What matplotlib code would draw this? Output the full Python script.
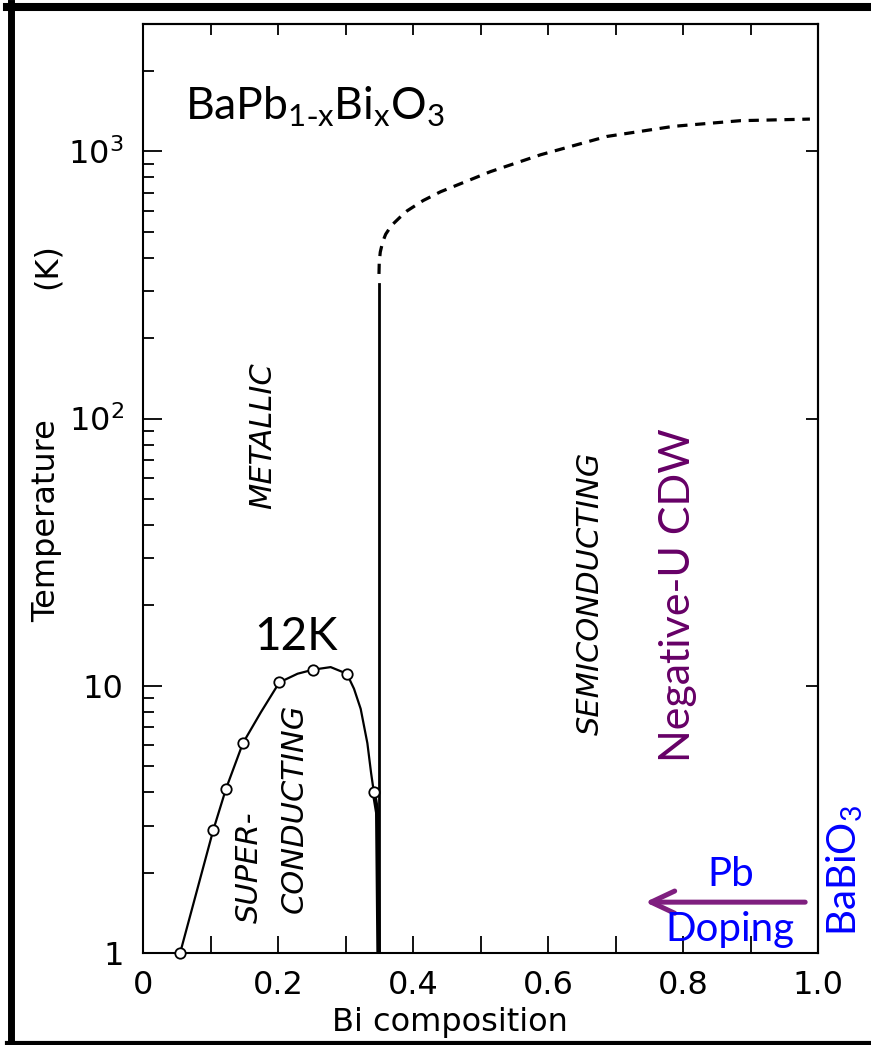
import numpy as np
import matplotlib.pyplot as plt
from matplotlib.lines import Line2D

plt.rcParams['font.family'] = ['DejaVu Sans']
plt.rcParams['mathtext.fontset'] = 'dejavusans'

W, H = 871, 1045

# measured Tc points (open circles)
tc_x = [0.055, 0.104, 0.123, 0.148, 0.202, 0.2525, 0.302, 0.342]
tc_T = [1.0, 2.88, 4.12, 6.1, 10.3, 11.5, 11.1, 4.0]

# superconducting dome line
dome_x = [0.055, 0.104, 0.123, 0.148, 0.1746, 0.202, 0.229, 0.2525, 0.278,
          0.302, 0.3126, 0.3225, 0.3324, 0.338, 0.342]
dome_T = [1.0, 2.88, 4.12, 6.1, 7.96, 10.3, 11.1, 11.5, 11.75,
          11.1, 9.75, 8.2, 6.1, 4.7, 4.0]

# steep end of the dome down to 1 K
tail_x = [0.342, 0.347, 0.349]
tail_T = [4.0, 3.35, 1.0]

# metal / semiconductor boundary
bound_x = [0.3496, 0.3496]
bound_T = [1.0, 320]

# dashed high temperature boundary
dash_x = [0.3496, 0.350, 0.3515, 0.355, 0.3595, 0.368, 0.38, 0.3915, 0.415,
          0.441, 0.515, 0.589, 0.687, 0.786, 0.885, 0.988]
dash_T = [348, 385, 420, 458, 490, 528, 565, 600, 655,
          707, 841, 972, 1138, 1242, 1304, 1322]

xticks = [0, 0.2, 0.4, 0.6, 0.8, 1.0]
xticklabels = ['0', '0.2', '0.4', '0.6', '0.8', '1.0']
yticks = [1, 10, 100, 1000]
yticklabels = ['1', '10', r'$\mathregular{10^2}$', r'$\mathregular{10^3}$']

PURPLE = '#660066'
ARROW = '#7f1f7f'
BLUE = '#0000ff'


def px(x, y):
    return x / W, 1 - y / H


fig = plt.figure(figsize=(W / 100, H / 100), dpi=100)
ax = fig.add_axes([143 / W, 1 - 953 / H, 675 / W, 929 / H])

ax.plot(dome_x, dome_T, color='black', lw=1.6)
ax.plot(tail_x, tail_T, color='black', lw=3.2, solid_capstyle='butt')
ax.plot(bound_x, bound_T, color='black', lw=2.0)
ax.plot(dash_x, dash_T, color='black', lw=2.3, linestyle=(0, (3.2, 2.4)))
ax.plot(tc_x, tc_T, linestyle='none', marker='o', ms=7.5, mfc='white',
        mec='black', mew=1.3, clip_on=False, zorder=5)

ax.set_yscale('log')
ax.set_xlim(0, 1.0)
ax.set_ylim(1, 3000)

ax.set_xticks(xticks)
ax.set_xticklabels(xticklabels)
ax.set_xticks(np.arange(0.1, 1.0, 0.2), minor=True)
ax.set_yticks(yticks)
ax.set_yticklabels(yticklabels)

for s in ax.spines.values():
    s.set_linewidth(1.5)

ax.tick_params(axis='x', which='both', direction='in', length=12, width=1.3,
               labelsize=23, pad=12)
ax.tick_params(axis='y', which='major', direction='in', length=14, width=1.3,
               labelsize=23, pad=14)
ax.tick_params(axis='y', which='minor', direction='in', length=8, width=1.3)

top = ax.secondary_xaxis('top')
top.set_xticks(np.arange(0.1, 1.0, 0.1))
top.tick_params(direction='in', length=8, width=1.3, labeltop=False)
top.xaxis.set_minor_locator(plt.NullLocator())
top.spines['top'].set_linewidth(1.5)

right = ax.secondary_yaxis('right')
right.set_yticks([10, 100, 1000])
right.yaxis.set_minor_locator(plt.NullLocator())
right.tick_params(direction='in', length=9, width=1.3, labelright=False)
right.spines['right'].set_linewidth(1.5)

# axis labels
fig.text(*px(47, 521), 'Temperature', rotation=90, fontsize=23,
         ha='center', va='center')
fig.text(*px(47, 266), '(K)', rotation=90, fontsize=23,
         ha='center', va='center')
fig.text(*px(450, 1022), 'Bi composition', fontsize=23,
         ha='center', va='center')

# region labels
region = dict(rotation=90, fontsize=22, style='italic', ha='center',
              va='center', family='DejaVu Sans')
fig.text(*px(263, 436), 'METALLIC', **region)
fig.text(*px(590, 593), 'SEMICONDUCTING', **region)
fig.text(*px(249, 867), 'SUPER-', **region)
fig.text(*px(294, 808), 'CONDUCTING', **region)

# overlaid annotations
fig.text(*px(185, 120), r'BaPb$_{\mathregular{1\text{-}x}}$Bi$_{\mathregular{x}}$O$_{\mathregular{3}}$',
         fontsize=32, family='Lato', ha='left', va='baseline')
fig.text(*px(296, 650), '12K', fontsize=33, family='Lato',
         ha='center', va='baseline')
fig.text(*px(678, 595), 'Negative-U CDW', rotation=90, fontsize=31,
         family='Lato', color=PURPLE, ha='center', va='center')
fig.text(*px(731, 886), 'Pb', fontsize=29, family='Lato', color=BLUE,
         ha='center', va='baseline')
fig.text(*px(730, 941), 'Doping', fontsize=29, family='Lato', color=BLUE,
         ha='center', va='baseline')
fig.text(*px(845, 870), r'BaBiO$_{\mathregular{3}}$', rotation=90, fontsize=29,
         family='Lato', color=BLUE, ha='center', va='center')

ax.annotate('', xy=(0.744, 1.55), xytext=(0.981, 1.55),
            arrowprops=dict(arrowstyle='->, head_length=0.85, head_width=0.4',
                            color=ARROW, lw=3.6, mutation_scale=20,
                            shrinkA=0, shrinkB=0))

# black picture frame (left, top, bottom)
fig.add_artist(Line2D([10.5 / W, 10.5 / W], [0, 1 - 3 / H],
                      transform=fig.transFigure, color='black', lw=5))
fig.add_artist(Line2D([7 / W, 1], [1 - 7 / H, 1 - 7 / H],
                      transform=fig.transFigure, color='black', lw=5.8))
fig.add_artist(Line2D([7 / W, 1], [2 / H, 2 / H],
                      transform=fig.transFigure, color='black', lw=3))

fig.savefig('out.png', dpi=100)
